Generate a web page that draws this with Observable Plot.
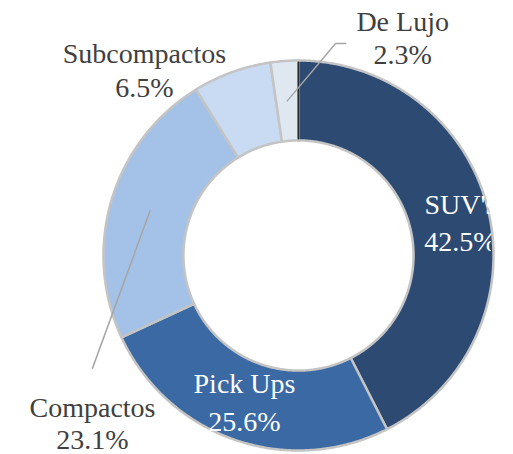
<!DOCTYPE html>
<html><head><meta charset="utf-8">
<script src="https://cdn.jsdelivr.net/npm/d3@7"></script>
<script src="https://cdn.jsdelivr.net/npm/@observablehq/plot@0.6"></script>
<style>body{margin:0;background:#fff}</style>
</head><body><div id="chart"></div>
<script>
// ---- data ----
const categories = ["SUV's", "Pick Ups", "Compactos", "Subcompactos", "De Lujo"];
const shares = [42.5, 25.6, 23.1, 6.5, 2.3];
const sliceColors = ["#2c4a72", "#3b69a3", "#a4c2e7", "#c8dbf2", "#dfe7f1"];

// ---- layout ----
const W = 513, H = 454, CX = 298, CY = 255, R = 195, INNER = 0.59, CLIP_RIGHT = 491;
const FS = 28;
// label placement: angle in degrees clockwise from 12 o'clock, radius in outer-radius units
const labelLayout = {
  "SUV's":        {angle: 78.8,  radius: 0.847, inside: true,  lh: 1.33},
  "Pick Ups":     {angle: 200.1, radius: 0.806, inside: true,  lh: 1.36},
  "Compactos":    {angle: 230.7, radius: 1.365, inside: false, lh: 1.16},
  "Subcompactos": {angle: 320.1, radius: 1.232, inside: false, lh: 1.2},
  "De Lujo":      {angle: 25.6,  radius: 1.236, inside: false, lh: 1.18}
};
// leader-line bends, as offsets from the label centre (outer-radius units)
const leaderBends = {
  "Compactos": [[0, 0.287]],
  "De Lujo": [[-0.344, -0.028], [-0.292, -0.028]]
};

const slices = categories.map((name, i) => ({name, share: shares[i]}));
const arcs = d3.pie().sort(null).value(d => d.share)(slices);

// ring polygons
const ring = [];
arcs.forEach(p => {
  const n = Math.max(2, Math.ceil((p.endAngle - p.startAngle) / (Math.PI / 360)));
  for (let i = 0; i <= n; i++) {
    const a = p.startAngle + (p.endAngle - p.startAngle) * i / n;
    ring.push({name: p.data.name, x: Math.sin(a), y: Math.cos(a)});
  }
  for (let i = n; i >= 0; i--) {
    const a = p.startAngle + (p.endAngle - p.startAngle) * i / n;
    ring.push({name: p.data.name, x: INNER * Math.sin(a), y: INNER * Math.cos(a)});
  }
});

// dark seam where the first slice starts (shadow of the last slice's edge)
const a0 = arcs[0].startAngle;
const seam = [0.99, INNER + 0.01].map(r => ({x: r * Math.sin(a0), y: r * Math.cos(a0)}));

// labels
const labels = arcs.map(p => {
  const L = labelLayout[p.data.name];
  const a = L.angle * Math.PI / 180;
  return {name: p.data.name, value: p.data.share.toFixed(1) + "%",
          x: L.radius * Math.sin(a), y: L.radius * Math.cos(a), inside: L.inside, lh: L.lh,
          mid: (p.startAngle + p.endAngle) / 2};
});

// leaders: from slice centroid through bends
const leaders = [];
labels.forEach(l => {
  const b = leaderBends[l.name];
  if (!b) return;
  const rc = (1 + INNER) / 2;
  leaders.push({name: l.name, x: rc * Math.sin(l.mid), y: rc * Math.cos(l.mid)});
  b.forEach(([dx, dy]) => leaders.push({name: l.name, x: l.x + dx, y: l.y + dy}));
});

const inside = labels.filter(d => d.inside);
const outside = labels.filter(d => !d.inside);
const font = "Liberation Serif, Times New Roman, serif";

const mk = (data, fill, clip) => [
  ...data.map(d => Plot.text([d], {x: "x", y: "y", text: "name", fill, fontSize: FS, fontFamily: font,
      dy: -d.lh * FS / 2, clip})),
  ...data.map(d => Plot.text([d], {x: "x", y: "y", text: "value", fill, fontSize: FS, fontFamily: font,
      dy: d.lh * FS / 2, clip}))
];

const chart = Plot.plot({
  width: W, height: H,
  marginLeft: 0, marginTop: 0, marginBottom: 0, marginRight: W - CLIP_RIGHT,
  x: {domain: [-CX / R, (CLIP_RIGHT - CX) / R], axis: null},
  y: {domain: [-(H - CY) / R, CY / R], axis: null},
  color: {domain: categories, range: sliceColors},
  style: {fontFamily: font, background: "#fff"},
  marks: [
    Plot.line(ring, {x: "x", y: "y", z: "name", fill: "name", stroke: "#c4c4c4", strokeWidth: 2.5,
      strokeLinejoin: "round", curve: "linear-closed"}),
    Plot.line(seam, {x: "x", y: "y", stroke: "#2a2a2a", strokeWidth: 2}),
    Plot.line(leaders, {x: "x", y: "y", z: "name", stroke: "#a6a6a6", strokeWidth: 1.5}),
    ...mk(inside, "#ffffff", true),
    ...mk(outside, "#404040", false)
  ]
});
document.getElementById("chart").append(chart);
</script>
</body></html>
